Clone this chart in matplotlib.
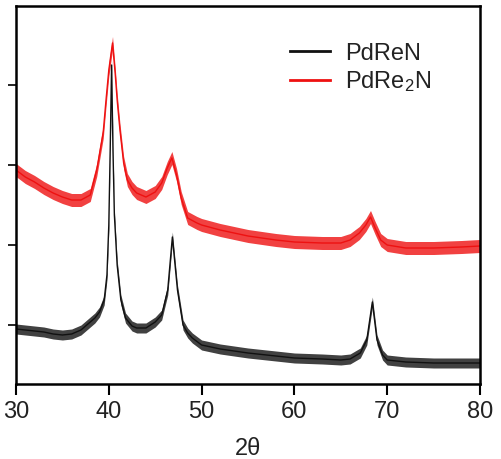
import numpy as np
import matplotlib
matplotlib.use("Agg")
import matplotlib.pyplot as plt

plt.rcParams["font.family"] = ["Liberation Sans", "DejaVu Sans"]
plt.rcParams["mathtext.default"] = "regular"

# intensity (a.u.) vs 2-theta
pdren_2theta = [30, 31, 32, 33, 34, 35, 36, 37, 38, 38.5, 39, 39.5, 39.8, 40.0, 40.15,
                40.3, 40.45, 40.6, 40.9, 41.3, 41.8, 42.5, 43, 44, 45, 45.7, 46.35,
                46.85, 47.4, 48.0, 48.5, 49, 50, 52, 55, 58, 60, 63, 65, 66, 67.1,
                67.8, 68.4, 68.9, 69.5, 70, 72, 75, 78, 80]
pdren_int = [55, 54, 53, 52, 50, 49, 50, 54, 62, 66, 72, 84, 109, 159, 234,
             319, 234, 169, 119, 84, 66, 58, 56, 56, 62, 69, 94,
             147, 94, 59, 51, 46, 39, 35, 31, 28, 26, 25, 24, 25, 31,
             44, 82, 44, 29, 24, 22, 21, 21, 21]

pdre2n_2theta = [30, 31, 32, 33, 34, 35, 36, 37, 38, 38.7, 39.4, 39.7, 40.0, 40.4,
                 40.7, 40.9, 41.2, 41.6, 42.0, 42.5, 43, 44, 45, 45.7, 46.3, 46.8,
                 47.3, 47.8, 48.5, 49.5, 50, 52, 55, 58, 60, 63, 65, 66, 67, 67.7,
                 68.2, 68.7, 69.3, 70, 72, 75, 78, 80]
pdre2n_int = [214, 207, 202, 196, 191, 187, 184, 184, 189, 214, 252, 284, 314, 341,
              309, 284, 254, 221, 204, 196, 191, 187, 192, 201, 216, 226,
              209, 186, 166, 161, 159, 154, 148, 144, 142, 141, 141, 144, 151, 159,
              167, 156, 144, 139, 136, 136, 137, 138]

labels = ["PdReN", "PdRe$_2$N"]
colors = ["#111111", "#ee1111"]
spread = [5, 6.5]   # half-width of the noise band seen in the picture

fig = plt.figure(figsize=(5.02, 4.59), dpi=100)
ax = fig.add_axes([16 / 502, 1 - 384 / 459, 464 / 502, 378 / 459])

series = [(pdren_2theta, pdren_int), (pdre2n_2theta, pdre2n_int)]
for (x, y), lab, c, s in zip(series, labels, colors, spread):
    x = np.asarray(x, dtype=float)
    y = np.asarray(y, dtype=float)
    ax.fill_between(x, y - s, y + s, color=c, alpha=0.8, lw=0)
    ax.plot(x, y, color=c, lw=1.0, label=lab)

ax.set_xlim(30, 80)
ax.set_ylim(0, 378)
ax.set_xticks([30, 40, 50, 60, 70, 80])
ax.set_yticks([59, 139, 219, 299])
ax.set_yticklabels([])
ax.tick_params(axis="x", direction="out", length=8, width=1.5, labelsize=17,
               labelcolor="#222222", pad=4)
ax.tick_params(axis="y", direction="out", length=6, width=1.2)
for sp in ax.spines.values():
    sp.set_linewidth(1.8)
ax.set_xlabel("2θ", fontsize=17, color="#222222", labelpad=11)

leg = ax.legend(loc="upper left", bbox_to_anchor=(0.59, 0.903), frameon=False,
                fontsize=17, handlelength=1.7, handletextpad=0.65,
                labelspacing=0.2, borderpad=0, borderaxespad=0)
for h in leg.get_lines():
    h.set_linewidth(2.0)
for t in leg.get_texts():
    t.set_color("#222222")

fig.savefig("out.png", dpi=100)
